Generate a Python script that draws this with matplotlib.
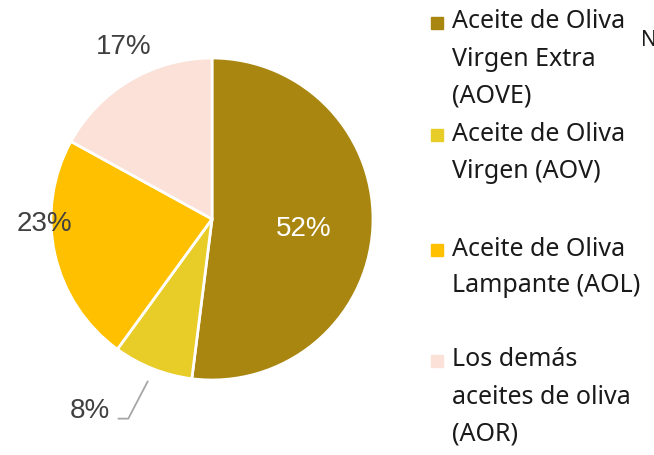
import matplotlib.pyplot as plt
from matplotlib.patches import Rectangle

# Datos
etiquetas = [
    "Aceite de Oliva\nVirgen Extra\n(AOVE)",
    "Aceite de Oliva\nVirgen (AOV)",
    "Aceite de Oliva\nLampante (AOL)",
    "Los demás\naceites de oliva\n(AOR)",
]
valores = [52, 8, 23, 17]
colores = ["#A8860F", "#E8CC28", "#FFC000", "#FBE1D7"]

W, H = 654, 455
fig = plt.figure(figsize=(W / 100, H / 100), dpi=100)

# Centro y radio del pastel en pixeles
cx, cy, r = 212, 219, 161
ax = fig.add_axes([(cx - r) / W, (H - cy - r) / H, 2 * r / W, 2 * r / H])
ax.pie(
    valores,
    colors=colores,
    startangle=90,
    counterclock=False,
    radius=1,
    wedgeprops=dict(edgecolor="white", linewidth=2),
)
ax.set_xlim(-1, 1)
ax.set_ylim(-1, 1)
ax.set_aspect("equal")
ax.axis("off")

# Etiquetas de porcentaje
pos_etiquetas = [(0.57, -0.06), (-0.76, -1.19), (-1.04, -0.03), (-0.55, 1.07)]
color_texto = ["white", "#404040", "#404040", "#404040"]
for v, (x, y), c in zip(valores, pos_etiquetas, color_texto):
    ax.text(x, y, f"{v}%", ha="center", va="center", fontsize=20,
            color=c, family="Liberation Sans", clip_on=False)

# Linea guia para el 8%
ax.plot([-0.58, -0.52, -0.40], [-1.24, -1.24, -1.01], color="#A6A6A6",
        linewidth=1.3, clip_on=False)

# Leyenda manual
y_entradas = [22, 134, 249, 360]
interlinea = 37
for lab, col, y0 in zip(etiquetas, colores, y_entradas):
    fig.patches.append(Rectangle((431 / W, 1 - (y0 + 7) / H), 12 / W, 12 / H,
                                 transform=fig.transFigure, color=col))
    for i, linea in enumerate(lab.split("\n")):
        fig.text(452 / W, 1 - (y0 + i * interlinea) / H, linea, ha="left",
                 va="center", fontsize=18, color="#1a1a1a", family="Noto Sans")

# Texto recortado en el borde derecho
fig.text(641 / W, 1 - 40 / H, "N", ha="left", va="center", fontsize=15,
         color="#1a1a1a", family="Noto Sans")

fig.savefig("out.png", dpi=100)
